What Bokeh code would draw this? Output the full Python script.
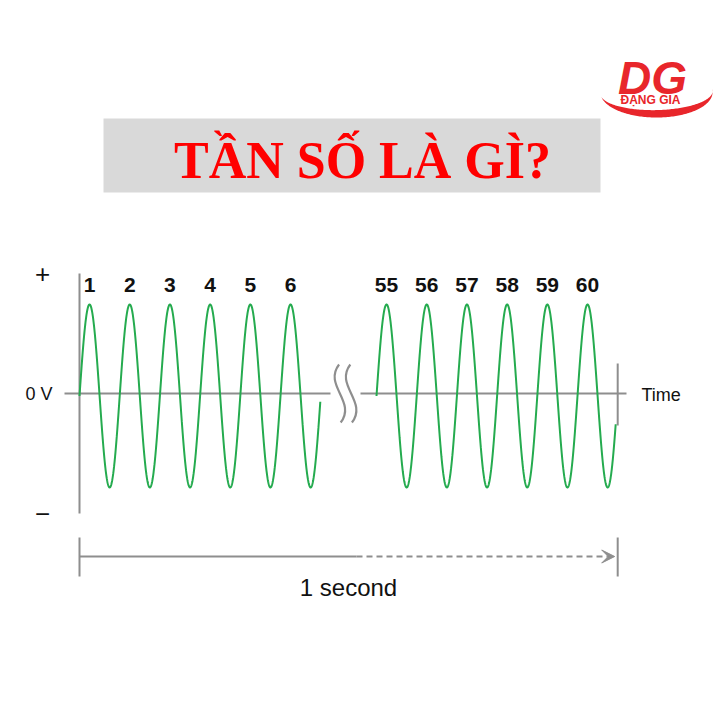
import numpy as np
from bokeh.plotting import figure
from bokeh.models import Range1d, Arrow, VeeHead
from bokeh.core.properties import value
from bokeh.embed import file_html
from bokeh.resources import INLINE

# ---------------- data ----------------
LEFT_CYCLES = [1, 2, 3, 4, 5, 6]          # first cycles shown
RIGHT_CYCLES = [55, 56, 57, 58, 59, 60]   # last cycles shown
CYCLES_PER_SECOND = 60                    # 60 Hz
PEAK_VOLTAGE = 1.0                        # normalised amplitude
LEFT_END_CYCLE = 5.99                     # where the first trace stops
RIGHT_START_CYCLE = 54.0                  # where the second trace begins
RIGHT_END_CYCLE = 59.95
TITLE = "TẦN SỐ LÀ GÌ?"
X_LABEL = "Time"
Y_ZERO_LABEL = "0 V"
Y_PLUS, Y_MINUS = "+", "\u2212"
SPAN_LABEL = "1 second"
LOGO_MARK, LOGO_NAME = "DG", "ĐẶNG GIA"

# ---------------- layout (reference pixel space -> data space) ----------------
W = H = 720
PX0, PERIOD_PX = 79.0, 40.2      # pixel of t=0, pixels per cycle
PY0, AMP_PX = 395.5, 91.5        # pixel of wave centre, pixels per unit voltage
AXIS_PY = 393.0                  # pixel row of the drawn 0 V line


def X(px):
    return (px - PX0) / PERIOD_PX


def Y(py):
    return (PY0 - py) / AMP_PX


SHIFT = X(376) - RIGHT_START_CYCLE   # display offset of the second segment
AXIS_Y = Y(AXIS_PY)

GREEN = "#25ab4f"
GREY = "#8e8e8e"
INK = "#111111"
RED = "#ff0000"
LOGO_RED = "#e8262b"
SANS = value("Liberation Sans")

p = figure(width=W, height=H, x_range=Range1d(X(0), X(W)), y_range=Range1d(Y(H), Y(0)),
           output_backend="svg", toolbar_location=None, min_border=0)
p.axis.visible = False
p.grid.visible = False
p.outline_line_color = None
p.background_fill_color = "white"
p.border_fill_color = "white"

# ---------------- title band ----------------
p.quad(left=[X(103)], right=[X(600)], top=[Y(118)], bottom=[Y(192)], fill_color="#d9d9d9", line_color=None)
p.text(x=[X(362)], y=[Y(160)], text=[TITLE], text_font=value("Liberation Serif"), text_font_style="bold",
       text_font_size="52px", text_color=RED, text_align="center", text_baseline="middle")

# ---------------- logo ----------------
a = np.linspace(np.radians(170), np.radians(-8), 120)
s = np.linspace(0, 1, a.size)
ox = 656 + 56 * np.cos(a)
oy = 92 + 25 * np.sin(a)
iy = oy - 7.5 * np.sin(np.pi * s)
xs = np.concatenate([ox, ox[::-1]])
ys = np.concatenate([oy, iy[::-1]])
p.patch(x=X(xs), y=Y(ys), fill_color=LOGO_RED, line_color=None)
p.text(x=[X(652)], y=[Y(77)], text=[LOGO_MARK], text_font=SANS, text_font_style="bold italic",
       text_font_size="46px", text_color=LOGO_RED, text_align="center", text_baseline="middle")
p.text(x=[X(650)], y=[Y(99)], text=[LOGO_NAME], text_font=SANS, text_font_style="bold",
       text_font_size="12px", text_color=LOGO_RED, text_align="center", text_baseline="middle")

# ---------------- axes ----------------
p.segment(x0=[0], y0=[Y(273)], x1=[0], y1=[Y(513)], line_color=GREY, line_width=2)
p.segment(x0=[X(64), X(360)], y0=[AXIS_Y, AXIS_Y], x1=[X(330), X(626)], y1=[AXIS_Y, AXIS_Y],
          line_color=GREY, line_width=2)
p.segment(x0=[CYCLES_PER_SECOND + SHIFT], y0=[Y(363)], x1=[CYCLES_PER_SECOND + SHIFT], y1=[Y(425)],
          line_color=GREY, line_width=2)

# axis break symbol
bx = (X(330) + X(360)) / 2
for dx in (-0.14, 0.14):
    p.bezier(x0=[bx + dx - 0.02], y0=[Y(364)], x1=[bx + dx + 0.02], y1=[Y(422)],
             cx0=[bx + dx - 0.42], cy0=[Y(385)], cx1=[bx + dx + 0.42], cy1=[Y(401)],
             line_color=GREY, line_width=2.2)

p.text(x=[X(52)], y=[Y(393)], text=[Y_ZERO_LABEL], text_font=SANS, text_font_size="18px",
       text_color=INK, text_align="right", text_baseline="middle")
p.text(x=[X(42)], y=[Y(273)], text=[Y_PLUS], text_font=SANS, text_font_size="26px",
       text_color=INK, text_align="center", text_baseline="middle")
p.text(x=[X(42)], y=[Y(513)], text=[Y_MINUS], text_font=SANS, text_font_size="26px",
       text_color=INK, text_align="center", text_baseline="middle")
p.text(x=[X(641)], y=[Y(394)], text=[X_LABEL], text_font=SANS, text_font_size="18px",
       text_color=INK, text_align="left", text_baseline="middle")

# ---------------- waves ----------------
tl = np.linspace(0, LEFT_END_CYCLE, 900)
p.line(x=tl, y=PEAK_VOLTAGE * np.sin(2 * np.pi * tl), line_color=GREEN, line_width=2)
tr = np.linspace(RIGHT_START_CYCLE, RIGHT_END_CYCLE, 900)
p.line(x=tr + SHIFT, y=PEAK_VOLTAGE * np.sin(2 * np.pi * tr), line_color=GREEN, line_width=2)

# cycle numbers above each peak
p.text(x=[c - 0.75 for c in LEFT_CYCLES], y=[Y(284)] * len(LEFT_CYCLES), text=[str(c) for c in LEFT_CYCLES],
       text_font=SANS, text_font_style="bold", text_font_size="21px", text_color=INK,
       text_align="center", text_baseline="middle")
p.text(x=[c - 0.75 + SHIFT for c in RIGHT_CYCLES], y=[Y(284)] * len(RIGHT_CYCLES),
       text=[str(c) for c in RIGHT_CYCLES],
       text_font=SANS, text_font_style="bold", text_font_size="21px", text_color=INK,
       text_align="center", text_baseline="middle")

# ---------------- one-second bracket ----------------
end_x = CYCLES_PER_SECOND + SHIFT
p.segment(x0=[0, end_x], y0=[Y(537)] * 2, x1=[0, end_x], y1=[Y(576)] * 2, line_color=GREY, line_width=2)
p.segment(x0=[0], y0=[Y(556)], x1=[X(356)], y1=[Y(556)], line_color=GREY, line_width=2)
p.add_layout(Arrow(x_start=X(356), y_start=Y(556), x_end=end_x - X(82) + X(79), y_end=Y(556),
                   line_color=GREY, line_width=2, line_dash="6 4",
                   end=VeeHead(size=13, fill_color=GREY, line_color=GREY, line_width=1)))
p.text(x=[X(348)], y=[Y(587)], text=[SPAN_LABEL], text_font=SANS, text_font_size="24px",
       text_color=INK, text_align="center", text_baseline="middle")

open("out.html", "w").write(file_html(p, INLINE))
